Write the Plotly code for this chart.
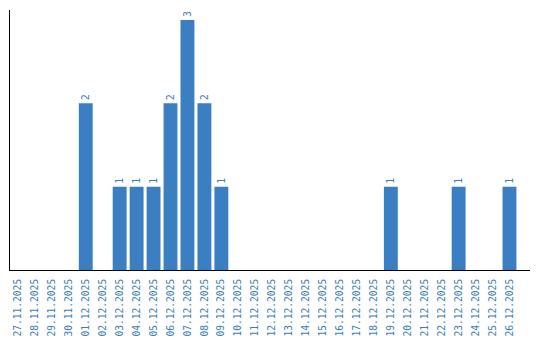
import plotly.graph_objects as go

dates = ["27.11.2025", "28.11.2025", "29.11.2025", "30.11.2025", "01.12.2025",
         "02.12.2025", "03.12.2025", "04.12.2025", "05.12.2025", "06.12.2025",
         "07.12.2025", "08.12.2025", "09.12.2025", "10.12.2025", "11.12.2025",
         "12.12.2025", "13.12.2025", "14.12.2025", "15.12.2025", "16.12.2025",
         "17.12.2025", "18.12.2025", "19.12.2025", "20.12.2025", "21.12.2025",
         "22.12.2025", "23.12.2025", "24.12.2025", "25.12.2025", "26.12.2025"]
counts = [0, 0, 0, 0, 2,
          0, 1, 1, 1, 2,
          3, 2, 1, 0, 0,
          0, 0, 0, 0, 0,
          0, 0, 1, 0, 0,
          0, 1, 0, 0, 1]

BLUE = "#3b7ec2"
labels = [str(v) if v else "" for v in counts]

fig = go.Figure(go.Bar(
    x=dates, y=counts, marker_color=BLUE, marker_line_width=0,
    text=labels, textposition="outside", textangle=-90,
    textfont=dict(family="DejaVu Sans Mono", size=10, color=BLUE),
    cliponaxis=False,
))
fig.update_layout(
    width=540, height=340,
    margin=dict(l=10, r=10, t=10, b=70, autoexpand=False),
    paper_bgcolor="white", plot_bgcolor="white",
    bargap=0.18, showlegend=False,
    font=dict(family="DejaVu Sans Mono", size=10, color=BLUE),
)
fig.update_xaxes(type="category", range=[-0.47, 30.21], showline=True,
                 linecolor="black", linewidth=1, showgrid=False, ticks="",
                 automargin=False,
                 tickangle=-90, tickfont=dict(family="DejaVu Sans Mono", size=9.6, color=BLUE),
                 ticklabelstandoff=4)
fig.update_yaxes(range=[0, 3.12], showline=True, linecolor="black", linewidth=1,
                 showgrid=False, zeroline=False, showticklabels=False, ticks="",
                 automargin=False)
fig.write_html("out.html")
